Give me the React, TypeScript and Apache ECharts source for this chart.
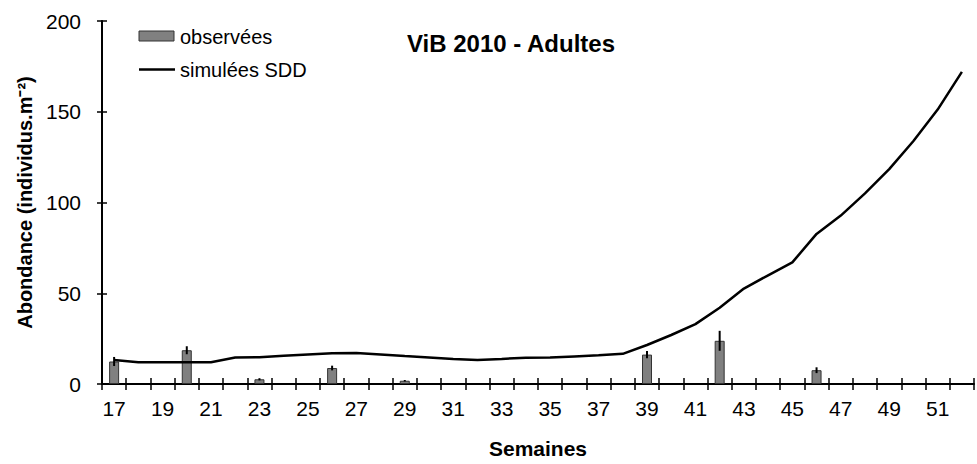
import React, { useEffect, useRef } from "react";
import * as echarts from "echarts";

const weeks: string[] = [];
for (let w = 17; w <= 52; w++) weeks.push(String(w));

const observedWeeks = [17, 20, 23, 26, 29, 39, 42, 46];
const observedValues = [12.4, 18.6, 2.6, 8.8, 1.8, 16.2, 23.8, 7.6];
const observedErrors = [2.5, 2.2, 0.6, 1.3, 0.4, 2.0, 5.5, 1.6];

const simulated = [
  13.2, 12.0, 12.0, 12.0, 12.0, 14.6, 14.7, 15.6, 16.3, 17.0, 17.1, 16.3,
  15.4, 14.6, 13.8, 13.2, 13.8, 14.5, 14.6, 15.2, 15.8, 16.6, 21.5, 27.0,
  33.0, 42.0, 52.6, 59.9, 67.0, 82.7, 92.8, 105.0, 118.4, 133.9, 151.2, 172.0,
];

const yTicks = [0, 50, 100, 150, 200];
const legendLabels = ["observées", "simulées SDD"];

const FONT = "'Liberation Sans', Arial, sans-serif";

export default function App() {
  const ref = useRef<HTMLDivElement>(null);
  useEffect(() => {
    if (!ref.current) return;
    const chart = echarts.init(ref.current, undefined, { renderer: "svg" });

    const barData = weeks.map((w) => {
      const i = observedWeeks.indexOf(Number(w));
      return i >= 0 ? observedValues[i] : "-";
    });
    const errData = observedWeeks.map((w, i) => [
      weeks.indexOf(String(w)),
      observedValues[i] - observedErrors[i],
      observedValues[i] + observedErrors[i],
    ]);

    chart.setOption({
      animation: false,
      textStyle: { fontFamily: FONT },
      title: {
        text: "ViB 2010 - Adultes",
        left: 506,
        top: 26,
        textAlign: "center",
        textStyle: { fontFamily: FONT, fontSize: 24, fontWeight: "bold", color: "#000" },
      },
      graphic: [
        {
          type: "rect",
          shape: { x: 139, y: 31, width: 35, height: 10 },
          style: { fill: "#808080", stroke: "#333", lineWidth: 1 },
        },
        {
          type: "text",
          x: 180,
          y: 37,
          style: { text: legendLabels[0], font: `20px ${FONT}`, fill: "#000", verticalAlign: "middle" },
        },
        {
          type: "line",
          shape: { x1: 139, y1: 69.5, x2: 175, y2: 69.5 },
          style: { stroke: "#000", lineWidth: 2.5 },
        },
        {
          type: "text",
          x: 180,
          y: 70,
          style: { text: legendLabels[1], font: `20px ${FONT}`, fill: "#000", verticalAlign: "middle" },
        },
      ],
      grid: { left: 102, right: 3, top: 21, bottom: 78, containLabel: false },
      xAxis: [
        {
          type: "category",
          data: weeks,
          boundaryGap: true,
          name: "Semaines",
          nameLocation: "middle",
          nameGap: 54,
          nameTextStyle: { fontFamily: FONT, fontSize: 21, fontWeight: "bold", color: "#000" },
          axisLine: { lineStyle: { color: "#000", width: 2 } },
          axisTick: { show: true, interval: 0, length: 6, lineStyle: { color: "#000", width: 1.5 } },
          axisLabel: { interval: 1, margin: 14, fontFamily: FONT, fontSize: 21, color: "#000" },
          splitLine: { show: false },
        },
        {
          type: "category",
          data: weeks,
          position: "bottom",
          offset: 0,
          boundaryGap: true,
          axisLine: { show: false },
          axisTick: { show: true, inside: true, interval: 0, length: 6, lineStyle: { color: "#000", width: 1.5 } },
          axisLabel: { show: false },
          splitLine: { show: false },
        },
      ],
      yAxis: [
        {
          type: "value",
          min: 0,
          max: yTicks[yTicks.length - 1],
          interval: 50,
          name: "Abondance (individus.m⁻²)",
          nameLocation: "middle",
          nameGap: 67,
          nameTextStyle: { fontFamily: FONT, fontSize: 20, fontWeight: "bold", color: "#000" },
          axisLine: { show: true, lineStyle: { color: "#000", width: 2 } },
          axisTick: { show: true, length: 5, lineStyle: { color: "#000", width: 1.5 } },
          axisLabel: { margin: 21, fontFamily: FONT, fontSize: 21, color: "#000" },
          splitLine: { show: false },
        },
        {
          type: "value",
          min: 0,
          max: yTicks[yTicks.length - 1],
          interval: 50,
          position: "left",
          offset: 0,
          axisLine: { show: false },
          axisTick: { show: true, inside: true, length: 5, lineStyle: { color: "#000", width: 1.5 } },
          axisLabel: { show: false },
          splitLine: { show: false },
        },
      ],
      series: [
        {
          name: "observées",
          type: "bar",
          data: barData,
          barWidth: 10,
          itemStyle: { color: "#808080", borderColor: "#333", borderWidth: 1 },
        },
        {
          name: "simulées SDD",
          type: "line",
          data: simulated,
          symbol: "none",
          lineStyle: { color: "#000", width: 2.5 },
          itemStyle: { color: "#000" },
        },
        {
          name: "err",
          type: "custom",
          data: errData,
          z: 5,
          renderItem: (params: any, api: any) => {
            const p1 = api.coord([api.value(0), api.value(1)]);
            const p2 = api.coord([api.value(0), api.value(2)]);
            return {
              type: "line",
              shape: { x1: p1[0], y1: p1[1], x2: p2[0], y2: p2[1] },
              style: { stroke: "#000", lineWidth: 2 },
            };
          },
        },
      ],
    });
    return () => chart.dispose();
  }, []);
  return <div ref={ref} style={{ width: 977, height: 464, position: "absolute", left: 0, top: 0 }} />;
}
